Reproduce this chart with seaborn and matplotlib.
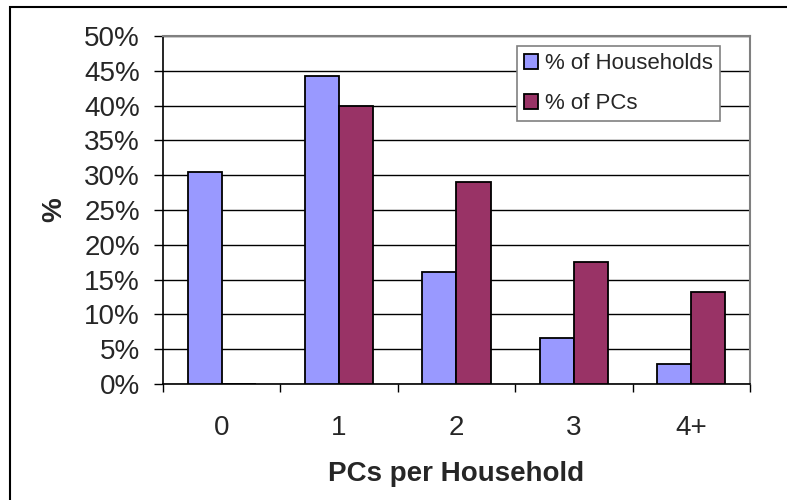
import matplotlib
matplotlib.use("Agg")
import matplotlib.pyplot as plt
from matplotlib.patches import Rectangle
from matplotlib.ticker import FixedLocator, FixedFormatter
import pandas as pd
import seaborn as sns

# Share of households by number of PCs owned, and share of all PCs they hold
categories = ["0", "1", "2", "3", "4+"]
pct_households = [30.5, 44.2, 16.1, 6.6, 2.9]
pct_pcs = [0.0, 40.0, 29.0, 17.6, 13.2]
series_names = ["% of Households", "% of PCs"]
y_ticks = [0, 5, 10, 15, 20, 25, 30, 35, 40, 45, 50]

df = pd.DataFrame({
    "PCs": categories * 2,
    "pct": pct_households + pct_pcs,
    "series": [series_names[0]] * len(categories) + [series_names[1]] * len(categories),
})

sns.set_style("white")
plt.rcParams["font.family"] = ["Liberation Sans", "DejaVu Sans"]

FS = 20

fig = plt.figure(figsize=(7.87, 5.0), dpi=100)
ax = fig.add_axes([0.2071, 0.232, 0.7459, 0.696])

sns.barplot(
    data=df, x="PCs", y="pct", hue="series", order=categories,
    palette=["#9999FF", "#993366"], saturation=1, width=0.58, gap=0,
    edgecolor="black", linewidth=1.3, ax=ax, errorbar=None, zorder=3,
)

ax.set_xlim(-0.5, len(categories) - 0.5)
ax.set_ylim(0, 50)

# horizontal gridlines
ax.set_yticks(y_ticks)
ax.set_yticklabels([f"{v}%" for v in y_ticks])
ax.yaxis.grid(True, color="black", linewidth=1.0, zorder=0)
ax.set_axisbelow(True)

# category ticks sit between groups, labels at group centres
bounds = [i - 0.5 for i in range(len(categories) + 1)]
ax.xaxis.set_major_locator(FixedLocator(bounds))
ax.xaxis.set_major_formatter(FixedFormatter([""] * len(bounds)))
ax.xaxis.set_minor_locator(FixedLocator(list(range(len(categories)))))
ax.xaxis.set_minor_formatter(FixedFormatter(categories))
ax.tick_params(axis="x", which="major", direction="out", length=6, width=1,
               color="black", bottom=True)
ax.tick_params(axis="x", which="minor", length=0, pad=22, labelsize=FS)
ax.tick_params(axis="y", direction="out", length=6.5, width=1, color="black",
               left=True, pad=10, labelsize=FS)

for side in ["left", "bottom"]:
    ax.spines[side].set_color("black")
    ax.spines[side].set_linewidth(1.2)
for side in ["top", "right"]:
    ax.spines[side].set_visible(True)
    ax.spines[side].set_color("#808080")
    ax.spines[side].set_linewidth(1.5)

ax.set_xlabel("PCs per Household", fontsize=FS, fontweight="bold", labelpad=15)
ax.set_ylabel("%", fontsize=FS, fontweight="bold", labelpad=12)

leg = ax.legend(
    loc="upper left", bbox_to_anchor=(0.603, 0.971), borderaxespad=0,
    fontsize=16, handlelength=0.63, handleheight=0.63, handletextpad=0.3,
    borderpad=0.32, labelspacing=0.86, fancybox=False, shadow=False,
    framealpha=1, edgecolor="#808080", title=None,
)
leg.get_frame().set_linewidth(1.2)
for h in leg.legend_handles:
    h.set_edgecolor("black")
    h.set_linewidth(1.3)

# chart frame
fig.patches.append(Rectangle((9.5 / 787, -0.2), 1.2, 1.2 - 6.5 / 500,
                             transform=fig.transFigure, fill=False,
                             edgecolor="black", linewidth=1.5))

fig.savefig("out.png", dpi=100, facecolor="white")
